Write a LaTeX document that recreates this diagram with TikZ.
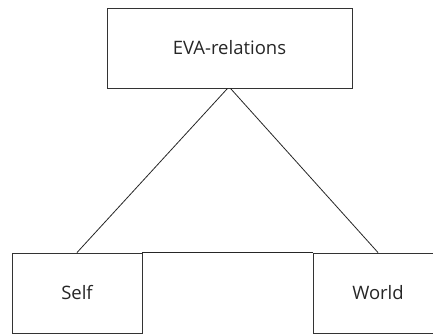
\documentclass[tikz,border=0pt]{standalone}
\usepackage{fontspec}
\setmainfont{Open Sans}
\usetikzlibrary{positioning}

\begin{document}
\begin{tikzpicture}[
    x=1pt, y=-1pt,
    box/.style={draw=black!80, line width=0.9pt, minimum width=130pt, minimum height=80pt, inner sep=0pt, font=\fontsize{18.5}{20}\selectfont, text=black!85},
    link/.style={draw=black!85, line width=0.8pt},
]

% Frame of the picture
\useasboundingbox (0,0) rectangle (433,334);

% Boxes
\node[box, minimum width=245pt] (eva) at (229.5,48) {EVA-relations};
\node[box] (self) at (77,293) {Self};
\node[box] (world) at (378,293) {World};

% Triangle
\draw[link] ([xshift=-2pt]eva.south) -- (self.north);
\draw[link] ([xshift=1pt]eva.south) -- (world.north);
\draw[link] (self.north east) -- (world.north west);

\end{tikzpicture}
\end{document}
